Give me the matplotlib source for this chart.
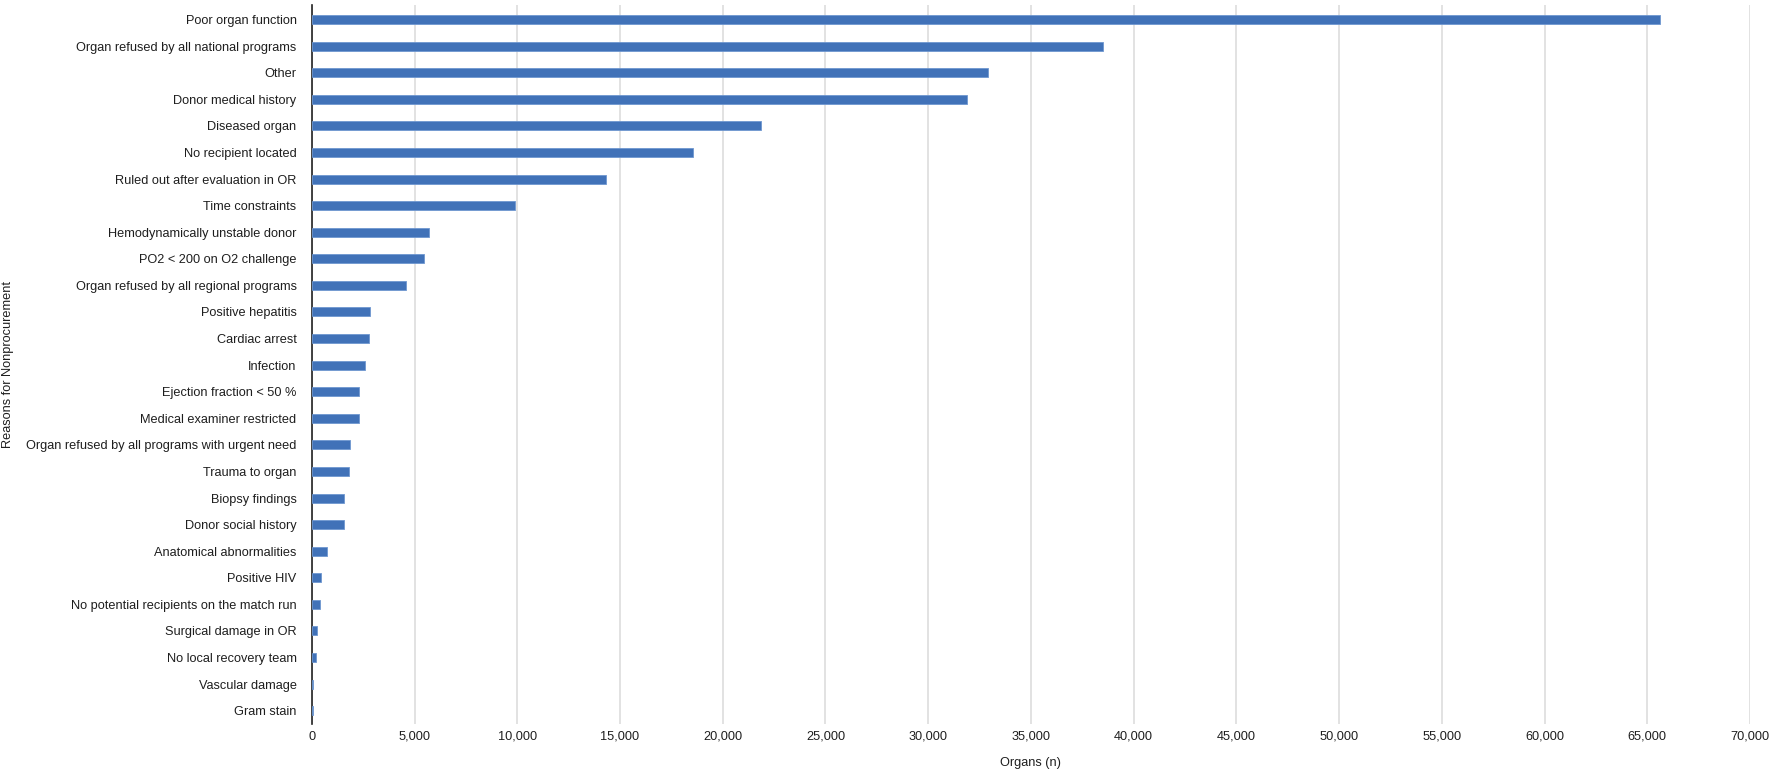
import matplotlib
matplotlib.use("Agg")
import matplotlib.pyplot as plt
from matplotlib.ticker import FuncFormatter, MultipleLocator

categories = [
    "Poor organ function",
    "Organ refused by all national programs",
    "Other",
    "Donor medical history",
    "Diseased organ",
    "No recipient located",
    "Ruled out after evaluation in OR",
    "Time constraints",
    "Hemodynamically unstable donor",
    "PO2 < 200 on O2 challenge",
    "Organ refused by all regional programs",
    "Positive hepatitis",
    "Cardiac arrest",
    "Infection",
    "Ejection fraction < 50 %",
    "Medical examiner restricted",
    "Organ refused by all programs with urgent need",
    "Trauma to organ",
    "Biopsy findings",
    "Donor social history",
    "Anatomical abnormalities",
    "Positive HIV",
    "No potential recipients on the match run",
    "Surgical damage in OR",
    "No local recovery team",
    "Vascular damage",
    "Gram stain",
]
organs = [
    65600, 38500, 32900, 31870, 21850, 18570, 14330, 9890, 5720, 5480,
    4600, 2850, 2790, 2590, 2280, 2280, 1840, 1790, 1550, 1550,
    720, 455, 410, 260, 225, 75, 65,
]

plt.rcParams['font.family'] = ['Liberation Sans', 'DejaVu Sans']
FS = 9.2
TXT = '#1E1E1E'

fig = plt.figure(figsize=(17.72, 7.74), dpi=100)
ax = fig.add_axes([0.176, 0.0646, 0.8116, 0.929])

y = list(range(len(categories)))
ax.barh(y, organs, height=0.34, color='#4172B8', edgecolor='#6E97D0', linewidth=0.6, zorder=3)

ax.set_xlim(0, 70000)
ax.set_ylim(len(categories) - 0.5, -0.55)
ax.set_yticks(y)
ax.set_yticklabels(categories)
ax.xaxis.set_major_locator(MultipleLocator(5000))
ax.xaxis.set_major_formatter(FuncFormatter(lambda v, p: f"{int(v):,}"))

ax.grid(axis='x', color='#DDDDDD', linewidth=1.2, zorder=0)
for s in ['top', 'right', 'bottom']:
    ax.spines[s].set_visible(False)
ax.spines['left'].set_color('#222222')
ax.spines['left'].set_linewidth(1.2)
ax.tick_params(axis='both', length=0, labelsize=FS, colors=TXT)
ax.tick_params(axis='y', pad=11)
ax.tick_params(axis='x', pad=5)

ax.set_xlabel("Organs (n)", fontsize=FS, color=TXT, labelpad=10)
ax.set_ylabel("Reasons for Nonprocurement", fontsize=FS, color=TXT)
ax.yaxis.set_label_coords(-0.207, 0.5)

fig.savefig("out.png", dpi=100)
